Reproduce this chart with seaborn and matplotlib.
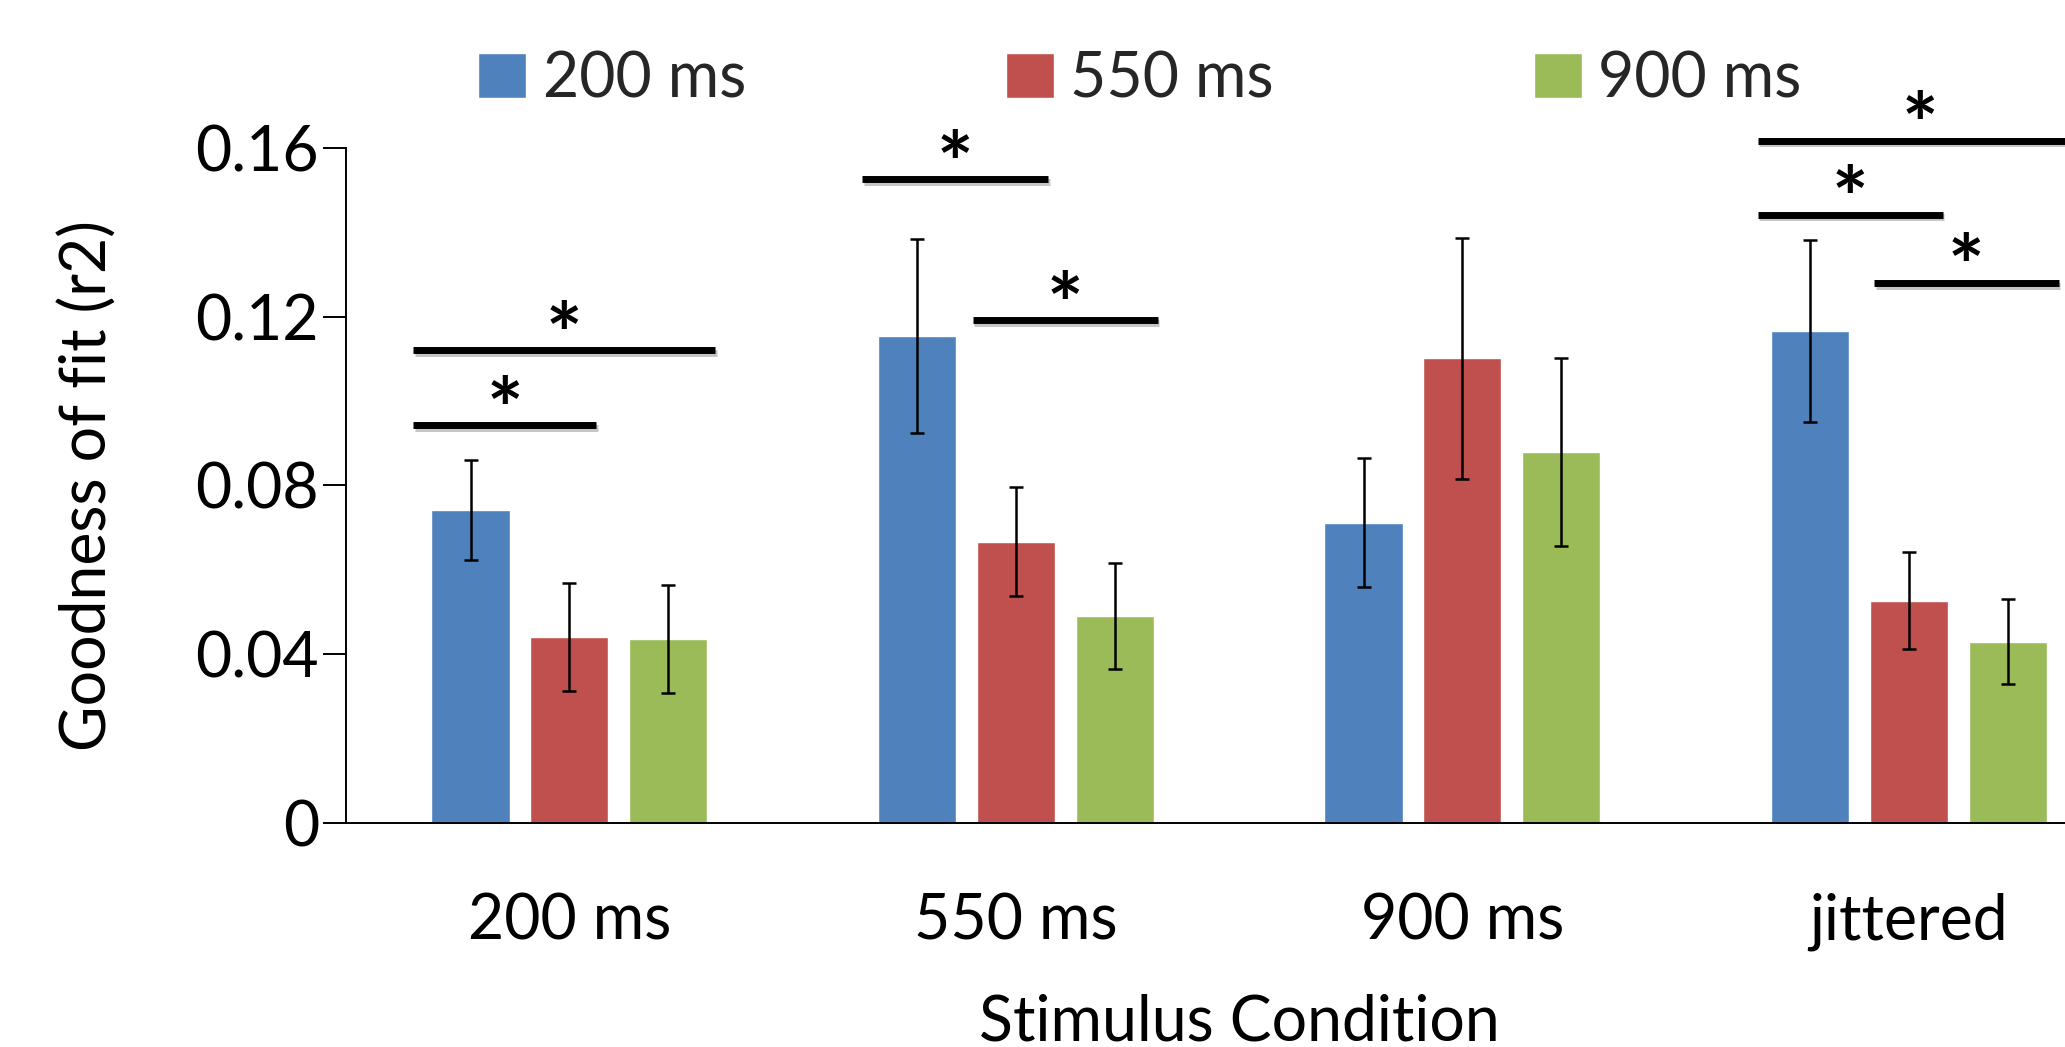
import matplotlib
matplotlib.use("Agg")
import matplotlib.pyplot as plt
import matplotlib.patheffects as pe
import seaborn as sns
import pandas as pd

# ---------------- data ----------------
conditions = ["200 ms", "550 ms", "900 ms", "jittered"]
series = ["200 ms", "550 ms", "900 ms"]
vals_200 = [0.0742, 0.1154, 0.0711, 0.1166]
vals_550 = [0.0440, 0.0667, 0.1101, 0.0527]
vals_900 = [0.0437, 0.0490, 0.0880, 0.0430]
err_200 = [0.0119, 0.0230, 0.0153, 0.0216]
err_550 = [0.0128, 0.0129, 0.0286, 0.0114]
err_900 = [0.0128, 0.0125, 0.0223, 0.0101]
yticks = [0, 0.04, 0.08, 0.12, 0.16]
ytick_labels = ["0", "0.04", "0.08", "0.12", "0.16"]
y_label = "Goodness of fit (r2)"
x_label = "Stimulus Condition"
# significance brackets: condition index, first series, last series, height
sig_cond = [0, 0, 1, 1, 3, 3, 3]
sig_from = [0, 0, 0, 1, 0, 0, 1]
sig_to = [2, 1, 1, 2, 2, 1, 2]
sig_y = [0.1120, 0.0942, 0.1525, 0.1191, 0.1617, 0.1441, 0.1279]

# ---------------- layout / style ----------------
colors = ["#4F81BD", "#C0504D", "#9BBB59"]
sig_pad_left = [0.041, 0.041, 0.035, 0.009, 0.030, 0.030, -0.009]
sig_pad_right = [0.018, -0.027, -0.015, 0.009, 0.080, -0.012, 0.027]
FS = 45

sns.set_theme(style="white")
plt.rcParams["font.family"] = ["Lato", "DejaVu Sans"]

vals = [vals_200, vals_550, vals_900]
errs = [err_200, err_550, err_900]
rows = []
for s, v in zip(series, vals):
    for c, x in zip(conditions, v):
        rows.append({"condition": c, "series": s, "value": x})
df = pd.DataFrame(rows)

fig = plt.figure(figsize=(20.65, 10.47), dpi=100)
ax = fig.add_axes([0.1676, 0.2140, 0.8649, 0.6448])

sns.barplot(data=df, x="condition", y="value", hue="series",
            order=conditions, hue_order=series, palette=colors,
            width=0.664, gap=0.21, errorbar=None, saturation=1,
            legend=False, ax=ax)

bar_containers = list(ax.containers)

# error bars from the bar positions
bar_geo = []
for i, cont in enumerate(bar_containers):
    patches = sorted(cont.patches, key=lambda p: p.get_x())
    xs = [p.get_x() + p.get_width() / 2 for p in patches]
    bar_geo.append([(p.get_x(), p.get_x() + p.get_width()) for p in patches])
    ax.errorbar(xs, vals[i], yerr=errs[i], fmt="none", ecolor="black",
                elinewidth=1.8, capsize=4.7, capthick=1.8, zorder=5)

# significance lines and stars
for k in range(len(sig_cond)):
    c = sig_cond[k]
    x0 = bar_geo[sig_from[k]][c][0] - sig_pad_left[k]
    x1 = bar_geo[sig_to[k]][c][1] + sig_pad_right[k]
    y = sig_y[k]
    ax.plot([x0, x1], [y, y], color="black", lw=5, solid_capstyle="butt",
            clip_on=False, zorder=6,
            path_effects=[pe.SimpleLineShadow(offset=(1.2, -1.8), shadow_color="gray", alpha=0.45),
                          pe.Normal()])
    ax.annotate("*", xy=((x0 + x1) / 2, y), xytext=(0, -21), textcoords="offset points",
                ha="center", va="bottom", fontsize=62, fontweight="bold",
                color="black", annotation_clip=False, zorder=6)

ax.set_xlim(-0.5, 3.5)
ax.set_ylim(0, 0.16)
ax.set_yticks(yticks)
ax.set_yticklabels(ytick_labels)
ax.set_xlabel(x_label, fontsize=FS, color="black")
ax.set_ylabel(y_label, fontsize=FS, color="black")
ax.yaxis.set_label_coords(-0.128, 0.5)
ax.xaxis.set_label_coords(0.5, -0.252)
ax.tick_params(axis="y", labelsize=FS, length=16.5, width=1.4, color="black",
               pad=3, left=True, labelcolor="black")
ax.tick_params(axis="x", labelsize=FS, length=0, pad=50, labelcolor="black")

for side in ["top", "right"]:
    ax.spines[side].set_visible(False)
for side in ["left", "bottom"]:
    ax.spines[side].set_color("black")
    ax.spines[side].set_linewidth(1.4)

ax.legend(handles=bar_containers, labels=series, loc="center",
          bbox_to_anchor=(0.552, 0.924), bbox_transform=fig.transFigure,
          ncol=3, frameon=False, fontsize=FS, handlelength=0.77,
          handleheight=0.72, handletextpad=0.26, columnspacing=4.16,
          borderaxespad=0)

fig.savefig("out.png", dpi=100)
